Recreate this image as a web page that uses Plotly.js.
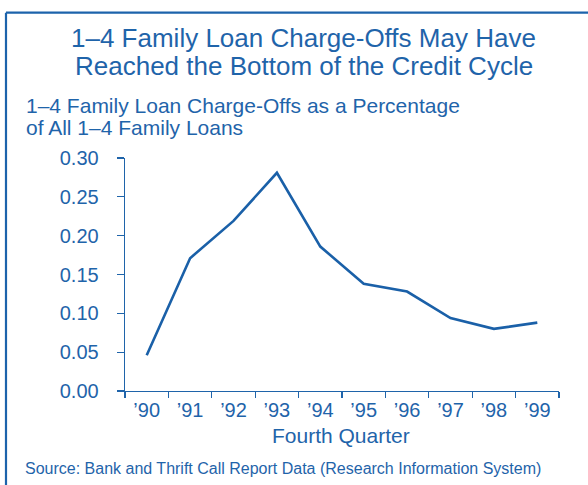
<!DOCTYPE html>
<html>
<head>
<meta charset="utf-8">
<script src="https://cdn.plot.ly/plotly-3.0.1.min.js"></script>
<style>html,body{margin:0;padding:0;background:#fff;}#chart{width:588px;height:485px;}</style>
</head>
<body>
<div id="chart"></div>
<script>
const categories = ["\u201990","\u201991","\u201992","\u201993","\u201994","\u201995","\u201996","\u201997","\u201998","\u201999"];
const chargeOffs = [0.046, 0.171, 0.219, 0.281, 0.186, 0.138, 0.128, 0.094, 0.080, 0.088];
const yTicks = [0, 0.05, 0.10, 0.15, 0.20, 0.25, 0.30];
const yTickLabels = ["0.00","0.05","0.10","0.15","0.20","0.25","0.30"];

const BLUE = "#1f64aa";
const FONT = "Liberation Sans, Arial, Helvetica, sans-serif";

const trace = {
  x: categories,
  y: chargeOffs,
  type: "scatter",
  mode: "lines",
  line: {color: "#1a60a8", width: 2.6},
  hoverinfo: "skip"
};

const layout = {
  width: 588, height: 485,
  margin: {l: 125, r: 29, t: 158, b: 94, pad: 0},
  paper_bgcolor: "#ffffff", plot_bgcolor: "#ffffff",
  font: {family: FONT, color: BLUE, size: 20},
  showlegend: false,
  xaxis: {
    type: "category",
    range: [-0.5, 9.5],
    tickson: "boundaries",
    ticks: "outside", ticklen: 6, tickwidth: 1.3, tickcolor: BLUE,
    showline: true, linecolor: BLUE, linewidth: 1.3,
    showgrid: false, zeroline: false,
    tickfont: {family: FONT, size: 20, color: BLUE},
    ticklabelstandoff: 1
  },
  yaxis: {
    range: [0, 0.30],
    tickvals: yTicks, ticktext: yTickLabels,
    ticks: "outside", ticklen: 7, tickwidth: 1.3, tickcolor: BLUE,
    showline: true, linecolor: BLUE, linewidth: 1.3,
    showgrid: false, zeroline: false,
    tickfont: {family: FONT, size: 20, color: BLUE},
    ticklabelstandoff: 14
  },
  annotations: [
    {text: "1\u20134 Family Loan Charge-Offs May Have", xref: "paper", yref: "paper", x: 0.412, y: 1.515, xanchor: "center", yanchor: "middle", showarrow: false, font: {family: FONT, size: 26, color: BLUE}},
    {text: "Reached the Bottom of the Credit Cycle", xref: "paper", yref: "paper", x: 0.412, y: 1.393, xanchor: "center", yanchor: "middle", showarrow: false, font: {family: FONT, size: 26, color: BLUE}},
    {text: "1\u20134 Family Loan Charge-Offs as a Percentage", xref: "paper", yref: "paper", x: -0.2327, y: 1.2258, xanchor: "left", yanchor: "middle", showarrow: false, font: {family: FONT, size: 21, color: BLUE}},
    {text: "of All 1\u20134 Family Loans", xref: "paper", yref: "paper", x: -0.2327, y: 1.1288, xanchor: "left", yanchor: "middle", showarrow: false, font: {family: FONT, size: 21, color: BLUE}},
    {text: "Fourth Quarter", xref: "paper", yref: "paper", x: 0.497, y: -0.1906, xanchor: "center", yanchor: "middle", showarrow: false, font: {family: FONT, size: 21, color: BLUE}},
    {text: "Source: Bank and Thrift Call Report Data (Research Information System)", xref: "paper", yref: "paper", x: -0.2350, y: -0.3335, xanchor: "left", yanchor: "middle", showarrow: false, font: {family: FONT, size: 16, color: BLUE}}
  ],
  shapes: [
    {type: "line", xref: "paper", yref: "paper", x0: -0.2742, x1: 1.2, y0: 1.6236, y1: 1.6236, line: {color: "#1c63ab", width: 2.2}},
    {type: "line", xref: "paper", yref: "paper", x0: -0.2742, x1: -0.2742, y0: 1.6236, y1: -0.5, line: {color: "#1c63ab", width: 2.2}}
  ]
};

Plotly.newPlot("chart", [trace], layout, {displayModeBar: false, staticPlot: true});
</script>
</body>
</html>
